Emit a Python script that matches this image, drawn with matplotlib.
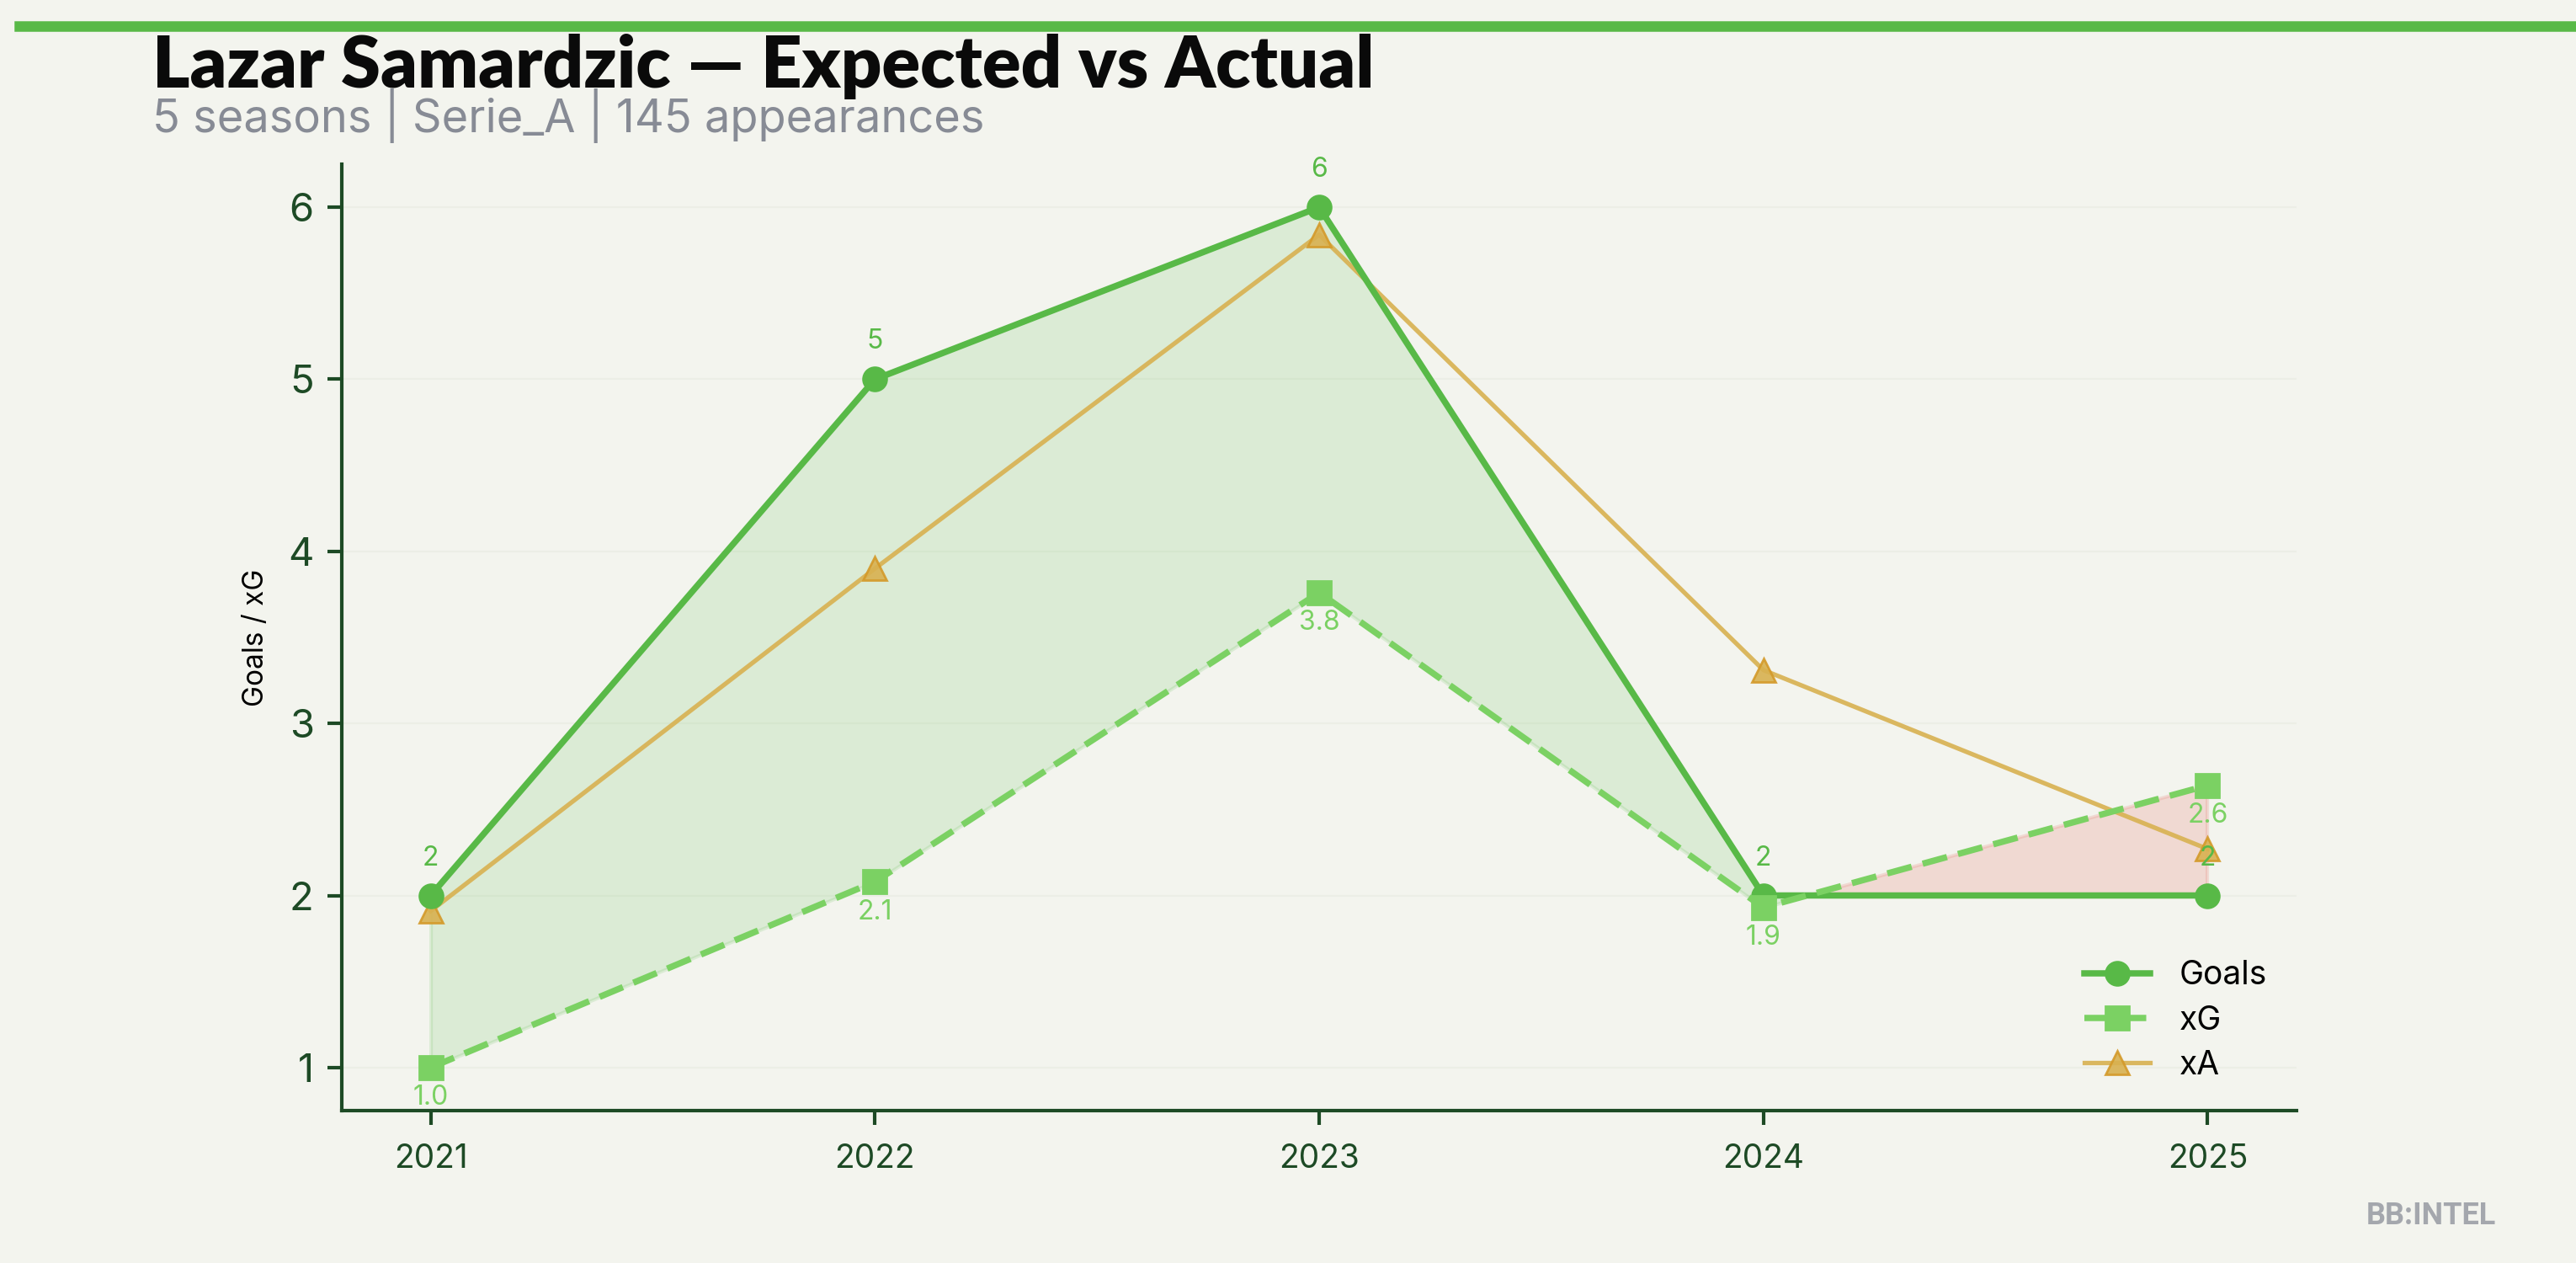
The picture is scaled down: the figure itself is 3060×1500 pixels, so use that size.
import matplotlib
matplotlib.use("Agg")
import matplotlib.pyplot as plt
import numpy as np

seasons = [2021, 2022, 2023, 2024, 2025]
goals = [2, 5, 6, 2, 2]
xg = [1.0, 2.08, 3.76, 1.93, 2.64]
xa = [1.91, 3.90, 5.84, 3.31, 2.27]
yticks = [1, 2, 3, 4, 5, 6]

title = "Lazar Samardzic \u2014 Expected vs Actual"
subtitle = "5 seasons | Serie_A | 145 appearances"

BG = "#f3f4ee"
GREEN = "#58b947"
LGREEN = "#7bd163"
GOLD = "#d8b150"
RED = "#e88a80"
DARK = "#1d4a25"

plt.rcParams['font.family'] = ['Inter', 'DejaVu Sans']

fig = plt.figure(figsize=(15.3, 7.5), dpi=200, facecolor=BG)
ax = fig.add_axes([0.1327, 0.1207, 0.7588, 0.7493])
ax.set_facecolor(BG)

x = np.array(seasons, dtype=float)
g = np.array(goals, dtype=float)
e = np.array(xg, dtype=float)

ax.fill_between(x, g, e, where=g >= e, interpolate=True, color=GREEN, alpha=0.15, lw=1.5)
ax.fill_between(x, g, e, where=g < e, interpolate=True, color=RED, alpha=0.25, lw=1.5)

ax.plot(x, g, color=GREEN, lw=2.7, marker='o', ms=10, label='Goals', zorder=4)
ax.plot(x, e, color=LGREEN, lw=2.7, ls=(0, (4, 1.8)), marker='s', ms=10, label='xG', zorder=4)
ax.plot(x, xa, color=GOLD, lw=1.9, marker='^', ms=10, label='xA', zorder=3,
        markerfacecolor=GOLD, markeredgecolor="#d49a2a", alpha=0.9)

for xi, gi in zip(x, goals):
    ax.annotate(f"{gi}", (xi, gi), textcoords='offset points', xytext=(0, 16),
                ha='center', va='center', fontsize=11.5, color=GREEN, zorder=5)
for xi, ei in zip(x, xg):
    ax.annotate(f"{ei:.1f}", (xi, ei), textcoords='offset points', xytext=(0, -13),
                ha='center', va='center', fontsize=11.5, color=LGREEN, zorder=5)

ax.set_xticks(seasons)
ax.set_xticklabels([str(s) for s in seasons])
ax.set_yticks(yticks)
ax.tick_params(axis='x', labelsize=14, colors=DARK, length=6, width=1.5, pad=8)
ax.tick_params(axis='y', labelsize=17, colors=DARK, length=6, width=1.5, pad=6)
for s in ['top', 'right']:
    ax.spines[s].set_visible(False)
for s in ['left', 'bottom']:
    ax.spines[s].set_color(DARK)
    ax.spines[s].set_linewidth(1.5)
ax.grid(axis='y', color='#eceee6', lw=0.8)
ax.set_axisbelow(True)
ax.set_ylabel("Goals / xG", fontsize=12, color='black', labelpad=8)

leg = ax.legend(loc='lower right', bbox_to_anchor=(1.0, 0.0), frameon=False,
                fontsize=14, handlelength=2.0, labelspacing=0.42, handletextpad=0.9)

fig.add_artist(plt.Line2D([0.0075, 1.0], [0.9795, 0.9795], color=GREEN, lw=4.5,
                          transform=fig.transFigure))
fig.text(0.059, 0.931, title, fontsize=30.5, fontweight='heavy', family=['Lato', 'DejaVu Sans'],
         color='#0a0a0a', va='baseline')
fig.text(0.059, 0.895, subtitle, fontsize=19.5, color='#878b95', va='baseline')
fig.text(0.969, 0.031, "BB:INTEL", fontsize=13, fontweight='bold', color='#a4a7ad',
         ha='right', va='baseline', family=['Roboto', 'DejaVu Sans'])

fig.savefig("out.png", dpi=200, facecolor=BG)
